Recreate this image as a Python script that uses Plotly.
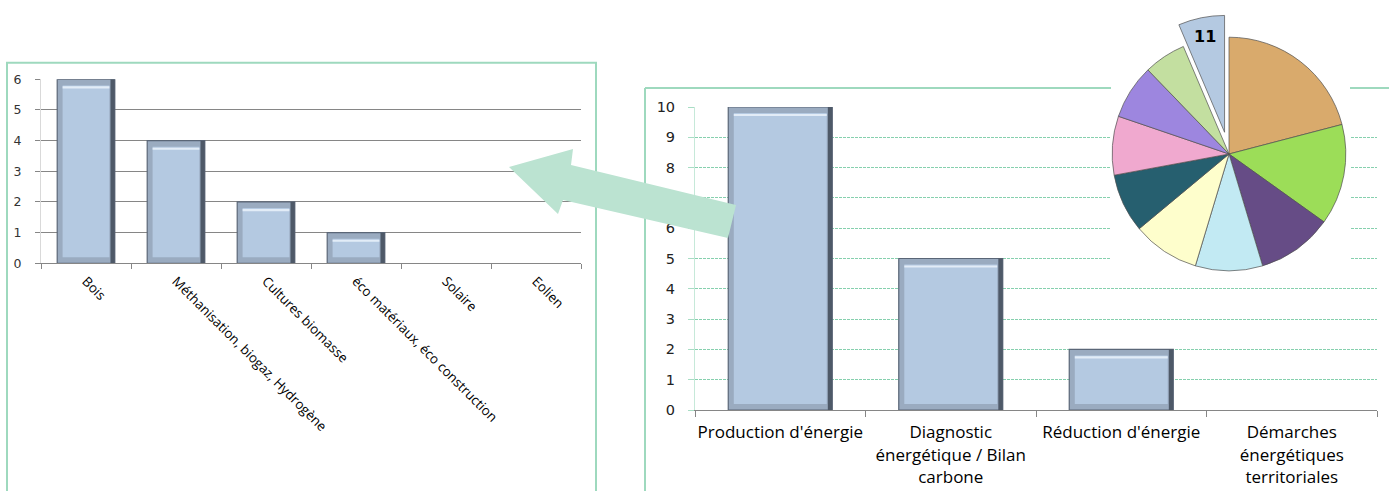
import plotly.graph_objects as go

W, H = 1389, 491

# --- data -------------------------------------------------------------
filiere_labels = ["Bois", "Méthanisation, biogaz, Hydrogène", "Cultures biomasse",
                  "éco matériaux, éco construction", "Solaire", "Eolien"]
filiere_values = [6, 4, 2, 1, 0, 0]

theme_labels = ["Production d'énergie", "Diagnostic<br>énergétique / Bilan<br>carbone",
                "Réduction d'énergie", "Démarches<br>énergétiques<br>territoriales"]
theme_values = [10, 5, 2, 0]

pie_values = [36, 24, 18, 16, 16, 14, 14, 13, 10, 11]
pie_colors = ["#D9AA6C", "#9CDD58", "#664C86", "#C2EAF3", "#FEFECC",
              "#265F6F", "#F0A9CF", "#9D86DF", "#C3DFA0", "#B4C9E1"]
pie_text = ["", "", "", "", "", "", "", "", "", "%{value}"]
pie_pull = [0, 0, 0, 0, 0, 0, 0, 0, 0, 0.19]

left_ticks = [0, 1, 2, 3, 4, 5, 6]
right_ticks = list(range(0, 11))

# --- helpers ------------------------------------------------------------
def px(x):
    return x / W


def py(y):
    return 1 - y / H


BAR_FILL = "#B4C9E1"
BEVEL = "#9AABC0"
BAR_EDGE = "#5A6677"
SHADE = "#4E5968"
HIGHLIGHT = "#E2ECF7"
GREEN_LINE = "#9ED9BE"
LABEL_FONT = "Open Sans"
NUM_FONT = "DejaVu Sans"
BEVEL_DEPTH = 0.2   # bevel thickness in value units (both charts use ~30 px per unit)


def bevel_bars(labels, values, xa, ya, outer_w, inner_w):
    """Bevelled bar: frame, darker right side, light face, highlight under the top edge."""
    shown = [v if v > 0 else None for v in values]
    face_base = [BEVEL_DEPTH if v > 0 else None for v in values]
    face_h = [v - 2 * BEVEL_DEPTH if v > 0 else None for v in values]
    hl_base = [v - 1.5 * BEVEL_DEPTH if v > 0 else None for v in values]
    hl_h = [0.35 * BEVEL_DEPTH if v > 0 else None for v in values]
    side_w = (outer_w - inner_w) / 2
    common = dict(xaxis=xa, yaxis=ya, hoverinfo="skip", showlegend=False)
    return [
        go.Bar(x=labels, y=shown, width=outer_w,
               marker=dict(color=BEVEL, line=dict(color=BAR_EDGE, width=1.2)), **common),
        go.Bar(x=labels, y=shown, width=side_w * 0.8, offset=outer_w / 2 - side_w * 0.8,
               marker=dict(color=SHADE, line=dict(width=0)), **common),
        go.Bar(x=labels, y=face_h, base=face_base, width=inner_w,
               marker=dict(color=BAR_FILL, line=dict(width=0)), **common),
        go.Bar(x=labels, y=hl_h, base=hl_base, width=inner_w,
               marker=dict(color=HIGHLIGHT, line=dict(width=0)), **common),
    ]


fig = go.Figure()

for tr in bevel_bars(filiere_labels, filiere_values, "x", "y", 0.64, 0.52):
    fig.add_trace(tr)
for tr in bevel_bars(theme_labels, theme_values, "x2", "y2", 0.61, 0.545):
    fig.add_trace(tr)

fig.add_trace(go.Pie(
    values=pie_values, sort=False, direction="clockwise", rotation=0,
    marker=dict(colors=pie_colors, line=dict(color="rgba(80,80,80,0.7)", width=1)),
    pull=pie_pull, texttemplate=pie_text, textposition="inside",
    insidetextorientation="horizontal",
    textfont=dict(family="DejaVu Sans", size=16, color="#000000", weight="bold"),
    domain=dict(x=[px(1090), px(1368)], y=[py(293), py(15)]),
    hoverinfo="skip", showlegend=False,
))

fig.update_layout(
    template="none",
    width=W, height=H, autosize=False,
    margin=dict(l=0, r=0, t=0, b=0, pad=0),
    paper_bgcolor="white", plot_bgcolor="white",
    barmode="overlay",
    showlegend=False,
    xaxis=dict(
        domain=[px(41), px(581)], type="category", range=[-0.5, 5.5],
        tickson="boundaries", ticks="outside", ticklen=5, tickcolor="#868686",
        showline=True, linecolor="#868686", linewidth=1, showgrid=False,
        tickangle=45, ticklabelstandoff=4, automargin=False,
        tickfont=dict(family=LABEL_FONT, size=13.3, color="#000000"),
        fixedrange=True,
    ),
    yaxis=dict(
        domain=[py(263.3), py(79.3)], range=[0, 6], tickvals=left_ticks,
        showgrid=True, gridcolor="#868686", gridwidth=1, zeroline=False,
        showline=True, linecolor="#D9D9D9", ticks="outside", ticklen=5,
        tickcolor="#868686", ticklabelstandoff=11, automargin=False,
        tickfont=dict(family=NUM_FONT, size=12.5, color="#333333"),
        fixedrange=True,
    ),
    xaxis2=dict(
        domain=[px(695), px(1377)], type="category", range=[-0.5, 3.5],
        anchor="y2",
        tickson="boundaries", ticks="outside", ticklen=6, tickcolor="#868686",
        showline=True, linecolor="#868686", linewidth=1, showgrid=False,
        tickangle=0, ticklabelstandoff=7, automargin=False,
        tickfont=dict(family=LABEL_FONT, size=17, color="#000000"),
        fixedrange=True,
    ),
    yaxis2=dict(
        domain=[py(410), py(107)], range=[0, 10], tickvals=right_ticks,
        anchor="x2",
        showgrid=True, gridcolor="#86D0AE", gridwidth=1, griddash="3px,1px",
        zeroline=False, showline=True, linecolor="#C6E9D9", ticks="outside",
        ticklen=6, tickcolor="#A8DDC4", ticklabelstandoff=10, automargin=False,
        tickfont=dict(family=NUM_FONT, size=14.5, color="#222222"),
        fixedrange=True,
    ),
)

# pixel -> x2/y2 data coordinates for the white backing behind the pie
def x2_val(x):
    return -0.5 + (x - 695) / ((1377 - 695) / 4)


def y2_val(y):
    return (410 - y) / ((410 - 107) / 10)


shapes = []
# left panel frame (bottom edge runs past the page)
shapes.append(dict(type="rect", xref="paper", yref="paper",
                   x0=px(7), x1=px(596), y0=py(500), y1=py(62.7),
                   line=dict(color=GREEN_LINE, width=2), fillcolor="rgba(0,0,0,0)",
                   layer="below"))
# right panel frame: left side and split top edge
shapes.append(dict(type="line", xref="paper", yref="paper",
                   x0=px(645), x1=px(645), y0=py(500), y1=py(88),
                   line=dict(color=GREEN_LINE, width=2), layer="below"))
shapes.append(dict(type="line", xref="paper", yref="paper",
                   x0=px(645), x1=px(1111), y0=py(88), y1=py(88),
                   line=dict(color=GREEN_LINE, width=2), layer="below"))
shapes.append(dict(type="line", xref="paper", yref="paper",
                   x0=px(1350), x1=px(1400), y0=py(88), y1=py(88),
                   line=dict(color=GREEN_LINE, width=2), layer="below"))
# white backing behind the pie, covering the gridlines
shapes.append(dict(type="rect", xref="x2", yref="y2",
                   x0=x2_val(1111), x1=x2_val(1350), y0=y2_val(275), y1=y2_val(0),
                   line=dict(width=0), fillcolor="white", layer="between"))

# block arrow pointing from the right chart to the left chart
arrow_pts = [(509, 167), (573, 149), (571, 165), (736, 205),
             (728, 238), (563, 200), (558, 214)]
path = "M " + " L ".join(f"{px(x):.5f},{py(y):.5f}" for x, y in arrow_pts) + " Z"
shapes.append(dict(type="path", xref="paper", yref="paper", path=path,
                   fillcolor="#BBE3D1", line=dict(width=0), layer="above"))

fig.update_layout(shapes=shapes)

fig.write_html("out.html")
